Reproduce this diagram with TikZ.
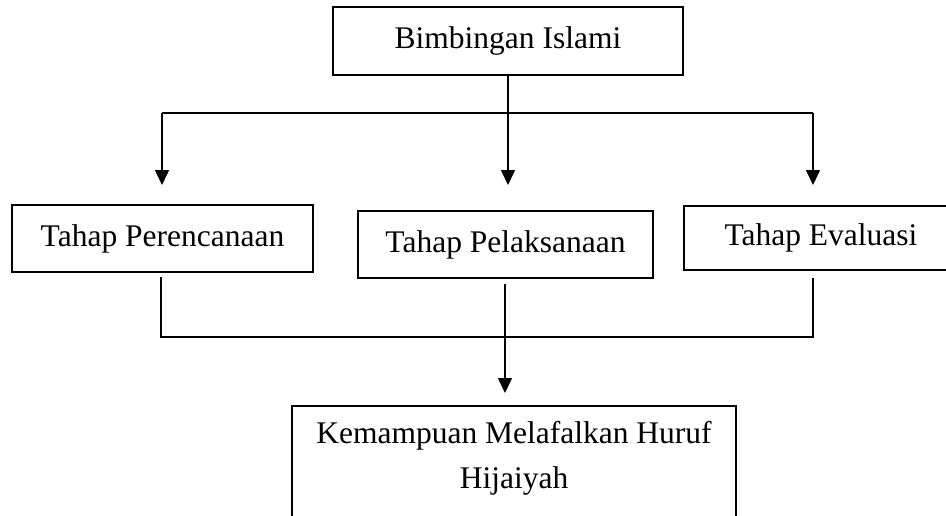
\documentclass[tikz,border=0pt]{standalone}
\usepackage{fontspec}
\setmainfont{Liberation Serif}
\usetikzlibrary{arrows.meta}
\begin{document}
\begin{tikzpicture}[x=1pt,y=-1pt,
  txt/.style={font=\fontsize{31.5}{45}\selectfont},
  box/.style={draw,line width=1.5pt,inner sep=0pt,txt},
  conn/.style={line width=1.5pt},
  arr/.style={conn,-{Triangle[width=14pt,length=15pt]}}]
\useasboundingbox (0,0) rectangle (946,515);
\node[box,minimum width=350,minimum height=68] (top) at (508,41) {Bimbingan Islami};
\node[box,minimum width=301,minimum height=67] (plan) at (162.5,238.5) {Tahap Perencanaan};
\node[box,minimum width=295,minimum height=67] (exec) at (505.5,244.5) {Tahap Pelaksanaan};
\node[box,minimum width=274,minimum height=64] (eval) at (821,238) {Tahap Evaluasi};
\node[box,minimum width=444,minimum height=130,anchor=north] (out) at (514,405) {};
\node[txt,align=center,inner sep=0pt] (outtext) at (514,458) {Kemampuan Melafalkan Huruf\\Hijaiyah};
% top connectors
\coordinate (hl) at (162,113);
\coordinate (hr) at (813,113);
\coordinate (tl) at (162,185);
\coordinate (tm) at (508,185);
\coordinate (tr) at (813,185);
\draw[conn] (hl) -- (hr);
\draw[arr] (top.south) -- (tm);
\draw[arr] (hl) -- (tl);
\draw[arr] (hr) -- (tr);
% bottom connectors
\coordinate (sl) at (161,277);
\coordinate (sr) at (813,278);
\coordinate (sm) at (505,284);
\coordinate (bl) at (161,337);
\coordinate (br) at (813,337);
\coordinate (bt) at (505,393);
\draw[conn] (sl) -- (bl) -- (br) -- (sr);
\draw[arr] (sm) -- (bt);
\end{tikzpicture}
\end{document}
